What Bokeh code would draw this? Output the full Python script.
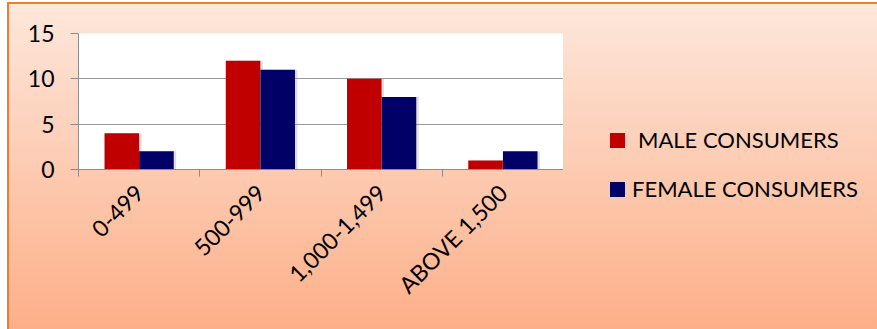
import math
from bokeh.plotting import figure
from bokeh.layouts import row
from bokeh.models import (Range1d, FixedTicker, ColumnDataSource, Div)
from bokeh.transform import dodge
from bokeh.embed import file_html
from bokeh.resources import INLINE

categories = ["0-499", "500-999", "1,000-1,499", "ABOVE 1,500"]
male = [4, 12, 10, 1]
female = [2, 11, 8, 2]
series_names = ["MALE CONSUMERS", "FEMALE CONSUMERS"]
colors = ["#C00000", "#000066"]
y_ticks = [0, 5, 10, 15]

xc = [i + 0.5 for i in range(len(categories))]
src = ColumnDataSource(dict(x=xc, male=male, female=female))

FONT = "Lato"

p = figure(width=563, height=329, output_backend="svg", toolbar_location=None,
           x_range=Range1d(0, len(categories)), y_range=Range1d(0, 15),
           min_border_left=78, min_border_right=0, min_border_top=33,
           min_border_bottom=160)
p.outline_line_color = None
p.background_fill_color = "white"
p.border_fill_alpha = 0.0

# soft shadows
p.vbar(x=dodge("x", -0.143 + 0.02, range=p.x_range), top="male", width=0.285,
       source=src, fill_color="#7f7f7f", fill_alpha=0.25, line_color=None)
p.vbar(x=dodge("x", 0.143 + 0.02, range=p.x_range), top="female", width=0.285,
       source=src, fill_color="#7f7f7f", fill_alpha=0.25, line_color=None)

p.vbar(x=dodge("x", -0.143, range=p.x_range), top="male", width=0.285,
       source=src, fill_color=colors[0], line_color=None)
p.vbar(x=dodge("x", 0.143, range=p.x_range), top="female", width=0.285,
       source=src, fill_color=colors[1], line_color=None)

xa = p.xaxis[0]
xa.ticker = FixedTicker(ticks=xc, minor_ticks=list(range(len(categories) + 1)))
xa.major_label_overrides = {v: c for v, c in zip(xc, categories)}
xa.major_label_orientation = math.pi / 4
xa.major_tick_line_color = None
xa.minor_tick_in = 0
xa.minor_tick_out = 7
xa.minor_tick_line_color = "#8C8C8C"
xa.axis_line_color = "#8C8C8C"
xa.major_label_text_font = FONT
xa.major_label_text_font_size = "23px"
xa.major_label_text_color = "black"
xa.major_label_standoff = 12

ya = p.yaxis[0]
ya.ticker = FixedTicker(ticks=y_ticks, minor_ticks=[])
ya.major_tick_in = 0
ya.major_tick_out = 8
ya.major_tick_line_color = "#8C8C8C"
ya.axis_line_color = "#8C8C8C"
ya.major_label_text_font = FONT
ya.major_label_text_font_size = "23px"
ya.major_label_text_color = "black"
ya.major_label_standoff = 16

p.xgrid.grid_line_color = None
p.ygrid.grid_line_color = "#9A9A9A"
p.ygrid.ticker = FixedTicker(ticks=y_ticks[1:])

# legend as an HTML block to the right of the chart
item_tops = [121, 170]
gaps = [13, 7]
items_html = "".join(
    f'<div style="position:absolute;left:42px;top:{t}px;height:28px;'
    f'display:flex;align-items:center;white-space:nowrap;">'
    f'<span style="display:inline-block;width:15px;height:15px;background:{c};'
    f'margin-right:{g}px;"></span>{name}</div>'
    for name, c, t, g in zip(series_names, colors, item_tops, gaps))
legend_div = Div(
    text=(f'<div style="position:relative;width:314px;height:329px;'
          f'font-family:{FONT};font-size:22px;color:black;line-height:28px;">'
          f'{items_html}</div>'),
    width=314, height=329)

layout = row(p, legend_div, spacing=0)
layout.styles = {
    "background-color": "white",
    "background-image": ("linear-gradient(to bottom, #FDE7DB, #FCAE87), "
                         "linear-gradient(#ED7D31, #ED7D31)"),
    "background-position": "9px 4px, 7px 2px",
    "background-size": "calc(100% - 9px) calc(100% - 7px), calc(100% - 7px) calc(100% - 3px)",
    "background-repeat": "no-repeat",
}

open("out.html", "w").write(file_html(layout, INLINE))
